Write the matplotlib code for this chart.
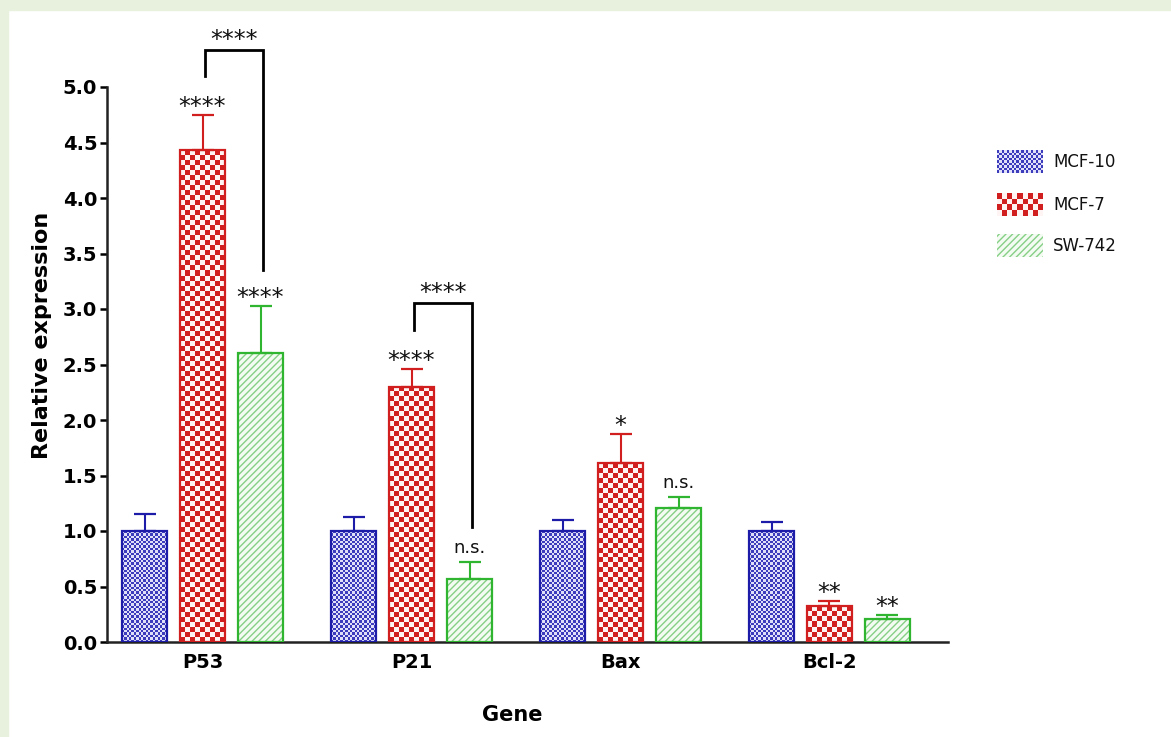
import numpy as np
import matplotlib
matplotlib.use("Agg")
import matplotlib.pyplot as plt
from matplotlib.colors import to_rgb
from matplotlib.patches import Rectangle

# data
genes = ["P53", "P21", "Bax", "Bcl-2"]
series = ["MCF-10", "MCF-7", "SW-742"]
mcf10 = [1.00, 1.00, 1.00, 1.00]
mcf10_err = [0.15, 0.13, 0.10, 0.08]
mcf7 = [4.43, 2.30, 1.61, 0.32]
mcf7_err = [0.32, 0.16, 0.26, 0.05]
sw742 = [2.60, 0.57, 1.21, 0.21]
sw742_err = [0.43, 0.15, 0.10, 0.03]
mcf7_sig = ["****", "****", "*", "**"]
sw742_sig = ["****", "n.s.", "n.s.", "**"]
# brackets MCF-7 vs SW-742: (gene index, top, left leg end, right leg end, label)
brackets = [(0, 5.33, 5.10, 3.35, "****"), (1, 3.05, 2.81, 1.04, "****")]

BLUE = "#1c1ca8"
RED = "#d11f1f"
GREEN = "#2fb52f"
GREEN_HATCH = "#86d086"

fig = plt.figure(figsize=(11.71, 7.37), dpi=100)
# light green frame on top and left
fig.patches.append(Rectangle((0, 0), 8 / 1171, 1, transform=fig.transFigure,
                             color="#e8f0de", zorder=-10))
fig.patches.append(Rectangle((0, 1 - 10 / 737), 1, 10 / 737, transform=fig.transFigure,
                             color="#e8f0de", zorder=-10))

ax = fig.add_axes([107 / 1171, 95 / 737, 841 / 1171, 555 / 737])
ax.set_xlim(-0.457, 3.567)
ax.set_ylim(0, 5.0)

x = np.arange(len(genes))
step = 58 / 209
width = 45 / 209


def checker(bars, c1, c2, cell):
    # fill each bar with a pixel-sized checkerboard
    for bar in bars:
        bx, bw, bh = bar.get_x(), bar.get_width(), bar.get_height()
        x0, y0 = ax.transData.transform((bx, 0))
        x1, y1 = ax.transData.transform((bx + bw, bh))
        nx = max(1, int(round((x1 - x0) / cell)))
        ny = max(1, int(round((y1 - y0) / cell)))
        ii, jj = np.indices((ny, nx))
        mask = ((ii + jj) % 2 == 0)[..., None]
        img = np.where(mask, to_rgb(c1), to_rgb(c2))
        ax.imshow(img, extent=(bx, bx + bw, 0, bh), origin="lower",
                  aspect="auto", interpolation="nearest", zorder=1)


b1 = ax.bar(x - step, mcf10, width, facecolor="none", edgecolor=BLUE, linewidth=1.6, zorder=3)
checker(b1, "#3c3cbc", "#e0e0f8", 2.4)
b2 = ax.bar(x, mcf7, width, facecolor="none", edgecolor=RED, linewidth=1.6, zorder=3)
checker(b2, RED, "#fff4f4", 5.0)
ax.bar(x + step, sw742, width, facecolor="#f4fbf2", edgecolor=GREEN_HATCH, hatch="/////",
       linewidth=0, zorder=1)
ax.bar(x + step, sw742, width, facecolor="none", edgecolor=GREEN, linewidth=1.6, zorder=3)

for off, vals, errs, col in [(-step, mcf10, mcf10_err, BLUE), (0, mcf7, mcf7_err, RED),
                             (step, sw742, sw742_err, GREEN)]:
    ax.errorbar(x + off, vals, yerr=[np.zeros(len(vals)), errs], fmt="none", ecolor=col,
                elinewidth=1.5, capsize=8, capthick=1.6, zorder=2)

for off, vals, errs, sig in [(0, mcf7, mcf7_err, mcf7_sig), (step, sw742, sw742_err, sw742_sig)]:
    for i in range(len(genes)):
        top = vals[i] + errs[i]
        if sig[i].startswith("*"):
            ax.text(x[i] + off, top + 0.01, sig[i], ha="center", va="baseline",
                    fontsize=17, color="#111111")
        else:
            ax.text(x[i] + off, top + 0.08, sig[i], ha="center", va="baseline",
                    fontsize=13, color="#111111")

for gi, ytop, yl, yr, lab in brackets:
    xl, xr = x[gi] + 0.01, x[gi] + step + 0.01
    ax.plot([xl, xl, xr, xr], [yl, ytop, ytop, yr], color="black", linewidth=2.0,
            clip_on=False, solid_joinstyle="miter", zorder=4)
    ax.text((xl + xr) / 2, ytop + 0.03, lab, ha="center", va="baseline", fontsize=17,
            color="#111111", clip_on=False)

for s in ["top", "right"]:
    ax.spines[s].set_visible(False)
for s in ["left", "bottom"]:
    ax.spines[s].set_linewidth(1.8)
    ax.spines[s].set_color("#222222")
ax.set_yticks(np.arange(0, 5.01, 0.5))
ax.set_yticklabels([f"{v:.1f}" for v in np.arange(0, 5.01, 0.5)], fontsize=14, fontweight="bold")
ax.set_xticks(x)
ax.set_xticklabels(genes, fontsize=14, fontweight="bold")
ax.tick_params(axis="y", length=5, width=1.8, pad=2)
ax.tick_params(axis="x", length=0, pad=8)
ax.set_ylabel("Relative expression", fontsize=16, fontweight="bold")
ax.yaxis.set_label_coords(-65 / 841, (642 - 335) / 555)
ax.set_xlabel("Gene", fontsize=15, fontweight="bold")
ax.xaxis.set_label_coords((512 - 107) / 841, -(715 - 642) / 555)
ax.xaxis.label.set_va("center")
ax.yaxis.label.set_va("center")

# legend swatches drawn by hand so the patterns match the bars
legend_y = [150, 193, 234]
for k, name in enumerate(series):
    top = legend_y[k]
    sax = fig.add_axes([997 / 1171, 1 - (top + 23) / 737, 46 / 1171, 23 / 737])
    sax.set_axis_off()
    sax.set_xlim(0, 1)
    sax.set_ylim(0, 1)
    if k < 2:
        cell = 2.4 if k == 0 else 5.0
        c1, c2 = ("#3c3cbc", "#e0e0f8") if k == 0 else (RED, "#fff4f4")
        ii, jj = np.indices((int(23 / cell), int(46 / cell)))
        mask = ((ii + jj) % 2 == 0)[..., None]
        sax.imshow(np.where(mask, to_rgb(c1), to_rgb(c2)), extent=(0, 1, 0, 1),
                   aspect="auto", interpolation="nearest")
    else:
        sax.add_patch(Rectangle((0, 0), 1, 1, facecolor="#f4fbf2", edgecolor=GREEN_HATCH,
                                hatch="/////", linewidth=0))
    fig.text(1053 / 1171, 1 - (top + 12) / 737, name, ha="left", va="center", fontsize=12,
             color="#111111")

fig.savefig("out.png", dpi=100)
